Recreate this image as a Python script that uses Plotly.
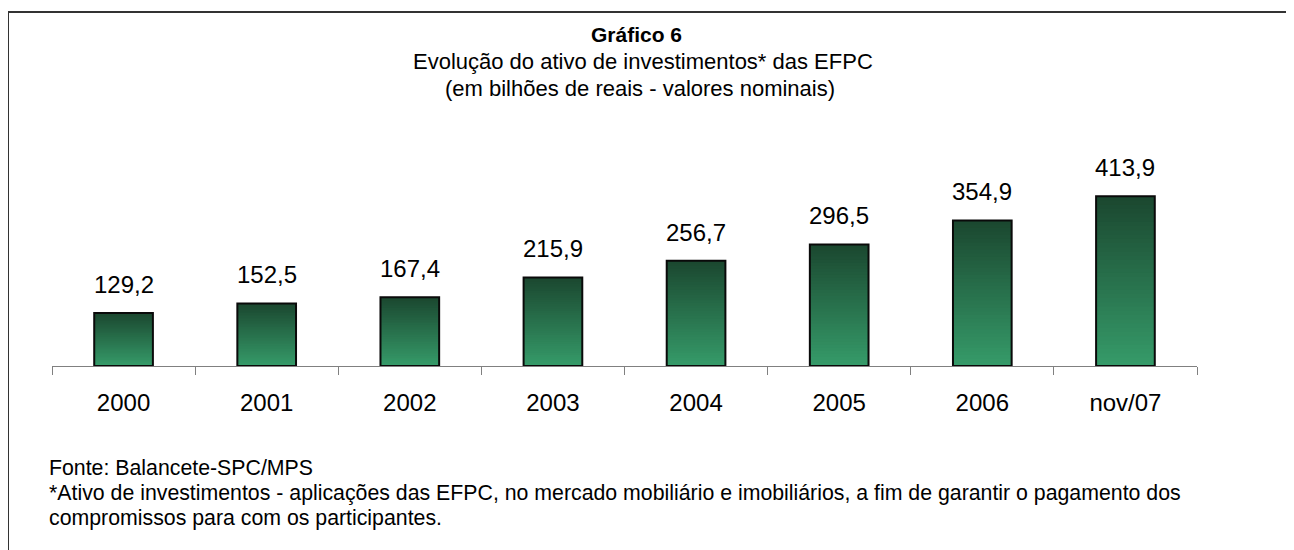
import plotly.graph_objects as go

categories = ["2000", "2001", "2002", "2003", "2004", "2005", "2006", "nov/07"]
values = [129.2, 152.5, 167.4, 215.9, 256.7, 296.5, 354.9, 413.9]

title = "<b>Gráfico 6</b>"
subtitle1 = "Evolução do ativo de investimentos* das EFPC"
subtitle2 = "(em bilhões de reais - valores nominais)"
foot1 = "Fonte: Balancete-SPC/MPS"
foot2 = ("*Ativo de investimentos - aplicações das EFPC, no mercado mobiliário e imobiliários, "
         "a fim de garantir o pagamento dos")
foot3 = "compromissos para com os participantes."

OFF = 8  # page body margin compensation
W, H = 1294 - OFF, 550 - OFF
ML, MT = 52 - OFF, 161 - OFF
PW, PH = 1145, 205
MR = W - ML - PW
MB = H - MT - PH
YMAX = 500
BARW = 0.41
FONT = "Liberation Sans, Arial, sans-serif"

top_rgb = (27, 72, 48)
bot_rgb = (54, 156, 106)
N = 40

fig = go.Figure()

# gradient: overlapping bars from tallest (dark) to shortest (light)
for i in range(N):
    frac = (N - i) / N
    c = tuple(round(bot_rgb[k] + (top_rgb[k] - bot_rgb[k]) * frac) for k in range(3))
    fig.add_trace(go.Bar(
        x=categories, y=[v * frac for v in values], width=BARW,
        marker=dict(color=f"rgb{c}", line=dict(width=0)),
        hoverinfo="skip", showlegend=False,
    ))

# outline
fig.add_trace(go.Bar(
    x=categories, y=values, width=BARW,
    marker=dict(color="rgba(0,0,0,0)", line=dict(color="#0a0a0a", width=2)),
    showlegend=False,
))

for i, v in enumerate(values):
    fig.add_annotation(x=i, y=v, xref="x", yref="y", text=f"{v:.1f}".replace(".", ","),
                       showarrow=False, yanchor="bottom", yshift=13,
                       font=dict(size=24, color="black", family=FONT))

def px_x(px):
    return (px - OFF - ML) / PW

def px_y(py):
    return (MT + PH - (py - OFF)) / PH

for txt, cxp, cy, sz in [(title, 636, 35, 21), (subtitle1, 643, 61, 22), (subtitle2, 640, 89, 22)]:
    fig.add_annotation(x=px_x(cxp), y=px_y(cy), xref="paper", yref="paper", text=txt,
                       showarrow=False, xanchor="center", yanchor="middle",
                       font=dict(size=sz, color="black", family=FONT))

for txt, cy in [(foot1, 468), (foot2, 493), (foot3, 518)]:
    fig.add_annotation(x=px_x(47), y=px_y(cy), xref="paper", yref="paper", text=txt,
                       showarrow=False, xanchor="left", yanchor="middle",
                       font=dict(size=21.3, color="black", family=FONT))

fig.add_shape(type="rect", xref="paper", yref="paper",
              x0=px_x(8), x1=px_x(1320), y0=px_y(12), y1=px_y(580),
              line=dict(color="#333333", width=2), fillcolor="rgba(0,0,0,0)", layer="above")

fig.update_layout(
    width=W, height=H,
    margin=dict(l=ML, r=MR, t=MT, b=MB, pad=0),
    barmode="overlay",
    plot_bgcolor="white", paper_bgcolor="white",
    font=dict(family=FONT, color="black"),
    xaxis=dict(type="category", range=[-0.5, len(categories) - 0.5],
               showline=True, linecolor="#808080", linewidth=1,
               ticks="outside", tickson="boundaries", ticklen=8, tickcolor="#808080",
               tickfont=dict(size=24, color="black", family=FONT),
               ticklabelstandoff=15, showgrid=False, zeroline=False, fixedrange=True),
    yaxis=dict(range=[0, YMAX], visible=False, showgrid=False, zeroline=False),
)

fig.write_html("out.html")
